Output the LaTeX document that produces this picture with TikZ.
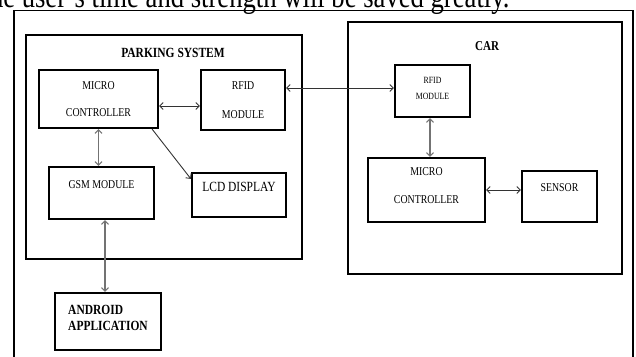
\documentclass[tikz,border=0pt]{standalone}
\usepackage{fontspec}
\setmainfont{Liberation Serif}[FakeStretch=0.82]
\usetikzlibrary{positioning}
\usetikzlibrary{arrows.meta}

\begin{document}
\begin{tikzpicture}[x=1pt, y=-1pt, >={Straight Barb[length=3.5pt,width=7pt]},
    blockbox/.style={rectangle, draw, line width=2.2pt, inner sep=0pt,
      align=center, font=\fontsize{12}{14}\selectfont},
    groupbox/.style={rectangle, draw, line width=2.4pt, inner sep=0pt},
    grouptitle/.style={font=\bfseries\fontsize{14}{16}\selectfont},
    raisetext/.style={text depth=#1},
    link/.style={draw=black!80, line width=0.9pt},
    graylink/.style={draw=black!55, line width=1.1pt}, ]
    \useasboundingbox (0,0) rectangle (636,356);
    % Page
    \node[anchor=base west, font=\fontsize{32.5}{34}\selectfont, inner sep=0pt]
    (caption) at (-17.6,7) {the user's time and strength will be saved greatly.};
    \draw[line width=1.2pt] (14,10.5) rectangle (633,380);
    % Groups
    \node[groupbox, minimum width=276pt, minimum height=224pt] (psys) at
    (164,147) {}; \node[grouptitle] (psystitle) at (173,53) {PARKING
      SYSTEM}; \node[groupbox, minimum width=274pt, minimum height=252pt]
    (car) at (485,148) {}; \node[grouptitle, font=\bfseries\fontsize{13.5}{15}\selectfont]
    (cartitle) at (487,46.5) {CAR};
    % Nodes
    \node[blockbox, minimum width=119pt, minimum height=58pt] (mcu) at
    (98.5,99) {MICRO\\[13pt]CONTROLLER}; \node[blockbox, minimum
    width=84pt, minimum height=60pt] (rfidp) at (243,100)
    {RFID\\[15pt]MODULE}; \node[blockbox, raisetext=16pt, minimum
    width=105pt, minimum height=52pt] (gsm) at (101.5,193) {GSM MODULE};
    \node[blockbox, raisetext=16pt, minimum width=94pt, minimum
    height=44pt, font=\fontsize{14}{16}\selectfont] (lcd) at (239,195)
    {LCD DISPLAY}; \node[blockbox, raisetext=7pt, minimum width=106pt,
    minimum height=57pt, align=left,
    font=\bfseries\fontsize{14}{16}\selectfont] (android) at
    (108,321.5) {ANDROID\\APPLICATION}; \node[blockbox, raisetext=6pt,
    minimum width=75pt, minimum height=52pt,
    font=\fontsize{9.5}{11.5}\selectfont] (rfidc) at (432.5,91)
    {RFID\\[4.5pt]MODULE}; \node[blockbox, raisetext=8pt, minimum
    width=117pt, minimum height=64pt] (mcuc) at (426.5,190)
    {MICRO\\[14pt]CONTROLLER}; \node[blockbox, raisetext=17pt, minimum
    width=75pt, minimum height=51pt] (sensor) at (559.5,196.5) {SENSOR};
    % Lines
    \draw[link, <->] ([yshift=-7pt]mcu.east) -- ([yshift=-7pt]mcu.east
    -| rfidp.west); \draw[link, <->] ([yshift=3pt]rfidc.west -|
    rfidp.east) -- ([yshift=3pt]rfidc.west); \draw[graylink, <->]
    (mcu.south) -- (mcu.south |- gsm.north); \draw[link, ->]
    ([xshift=-7pt]mcu.south east) -- ([yshift=-7pt]lcd.north west);
    \draw[graylink, <->] ([xshift=3.5pt]gsm.south) --
    ([xshift=3.5pt]gsm.south |- android.north); \draw[graylink, <->]
    ([xshift=-2.5pt]rfidc.south) -- ([xshift=-2.5pt]rfidc.south |-
    mcuc.north); \draw[link, <->] (mcuc.east) -- (mcuc.east -|
    sensor.west);
\end{tikzpicture}
\end{document}
